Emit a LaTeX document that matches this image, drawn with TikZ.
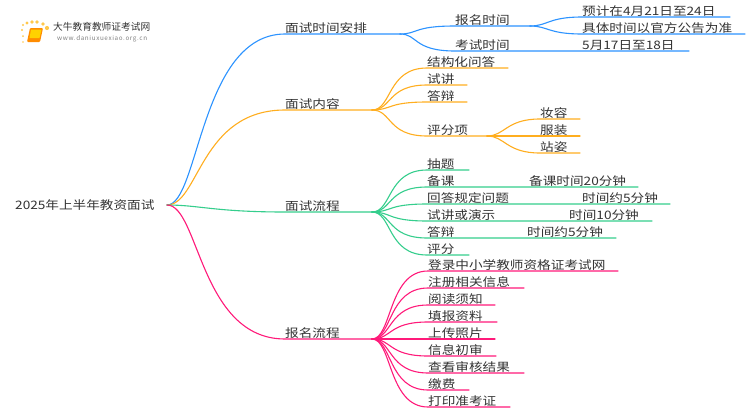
\documentclass[tikz,border=0pt]{standalone}
\usepackage{fontspec}
\setmainfont[FakeStretch=1.17]{Noto Sans CJK SC}
\newfontfamily\logofont{Noto Sans CJK SC}
\newfontfamily\urlfont[LetterSpace=10]{Noto Sans CJK SC}
\definecolor{bluec}{HTML}{2C93FF}
\definecolor{orangec}{HTML}{FFAE1F}
\definecolor{greenc}{HTML}{35CE8D}
\definecolor{pinkc}{HTML}{FF1A7A}
\definecolor{textc}{HTML}{333333}
\tikzset{
  lbl/.style={anchor=south west,inner sep=0pt,text height=9.5pt,text depth=1.6pt,text=textc,font=\fontsize{11.65}{13}\selectfont},
  conn/.style={line width=1.1pt,line cap=round,line join=round},
}
\begin{document}
\begin{tikzpicture}[x=1pt,y=-1pt]
\useasboundingbox (0,0) rectangle (750,410);
\fill[white] (0,0) rectangle (750,410);
% logo
\foreach \x/\y/\r in {23/25/1.2,27/23/1.6,32/22/1.9,37/22/1.9,43/24/1.8,47/28/2.1,22/30/1.2,23/36/1,23/42/.8}
  \fill[orange!60!yellow,opacity=.7] (\x,\y) circle (\r);
\fill[orange!90!yellow,rounded corners=1pt] (30,28)--(43,28)--(40,42)--(27,42)--cycle;
\fill[orange!35!yellow] (31,29.5)--(41.5,29.5)--(39.5,38)--(29.5,38)--cycle;
\node[inner sep=0pt,anchor=west,text=textc,font=\logofont\fontsize{9.7}{11}\selectfont] (logoname) at (53,27) {大牛教育教师证考试网};
\node[inner sep=0pt,anchor=west,text=gray,font=\urlfont\fontsize{6.3}{8}\selectfont] (logourl) at (57,39) {www.daniuxuexiao.org.cn};
% root
\node[lbl] (root) at (15,211.5) {2025年上半年教资面试};
\coordinate (jr) at (167,205);
% main branches
\coordinate (jb) at (400,34);
\coordinate (jo) at (372,110);
\coordinate (jg) at (372,212);
\coordinate (jp) at (372,339);
\node[lbl] (mb) at (285,34) {面试时间安排};
\node[lbl] (mo) at (285,110) {面试内容};
\node[lbl] (mg) at (285,212) {面试流程};
\node[lbl] (mp) at (285,339) {报名流程};
\foreach \m/\j/\c/\k in {mb/jb/bluec/85,mo/jo/orangec/85,mg/jg/greenc/70,mp/jp/pinkc/85}
  \draw[conn,\c] (jr) .. controls +(32,0) and +(-\k,0) .. (\m.south west) -- (\j);
% time
\node[lbl] (bm) at (455,26) {报名时间};
\node[lbl] (ks) at (455,51) {考试时间};
\coordinate (jbm) at (530,26);
\coordinate (eks) at (689,51);
\draw[conn,bluec] (jb) .. controls +(18,0) and +(-42,0) .. (bm.south west) -- (jbm);
\draw[conn,bluec] (jb) .. controls +(18,0) and +(-42,0) .. (ks.south west) -- (eks);
\node[lbl] (ksd) at (582,51) {5月17日至18日};
\node[lbl] (bm1) at (582,17) {预计在4月21日至24日};
\node[lbl] (bm2) at (582,34) {具体时间以官方公告为准};
\coordinate (ebm1) at (730,17);
\coordinate (ebm2) at (745,34);
\draw[conn,bluec] (jbm) .. controls +(18,0) and +(-34,0) .. (bm1.south west) -- (ebm1);
\draw[conn,bluec] (jbm) .. controls +(18,0) and +(-34,0) .. (bm2.south west) -- (ebm2);
% content
\foreach \i/\y/\xe/\t in {1/68/508/结构化问答,2/85/467/试讲,3/102/467/答辩,4/136/487/评分项}{
  \node[lbl] (o\i) at (427,\y) {\t};
  \coordinate (eo\i) at (\xe,\y);
  \draw[conn,orangec] (jo) .. controls +(20,0) and +(-40,0) .. (o\i.south west) -- (eo\i);
}
\foreach \i/\y/\t in {1/119/妆容,2/136/服装,3/153/站姿}{
  \node[lbl] (s\i) at (540,\y) {\t};
  \coordinate (es\i) at (580,\y);
  \draw[conn,orangec] (eo4) .. controls +(18,0) and +(-34,0) .. (s\i.south west) -- (es\i);
}
% interview
\foreach \i/\y/\xe/\t in {1/170/469/抽题,2/187/638/备课,3/204/670/回答规定问题,4/221/652/试讲或演示,5/238/616/答辩,6/255/469/评分}{
  \node[lbl] (g\i) at (427,\y) {\t};
  \coordinate (eg\i) at (\xe,\y);
  \draw[conn,greenc] (jg) .. controls +(20,0) and +(-40,0) .. (g\i.south west) -- (eg\i);
}
\node[lbl] (gt2) at (529,187) {备课时间20分钟};
\node[lbl] (gt3) at (582,204) {时间约5分钟};
\node[lbl] (gt4) at (569,221) {时间10分钟};
\node[lbl] (gt5) at (527,238) {时间约5分钟};
% signup
\foreach \i/\y/\xe/\t in {1/271/618/登录中小学教师资格证考试网,2/288/524/注册相关信息,3/305/495/阅读须知,4/322/497/填报资料,5/339/495/上传照片,6/356/496/信息初审,7/373/524/查看审核结果,8/390/469/缴费,9/407/510/打印准考证}{
  \node[lbl] (p\i) at (428,\y) {\t};
  \coordinate (ep\i) at (\xe,\y);
  \draw[conn,pinkc] (jp) .. controls +(20,0) and +(-40,0) .. (p\i.south west) -- (ep\i);
}
\end{tikzpicture}
\end{document}
